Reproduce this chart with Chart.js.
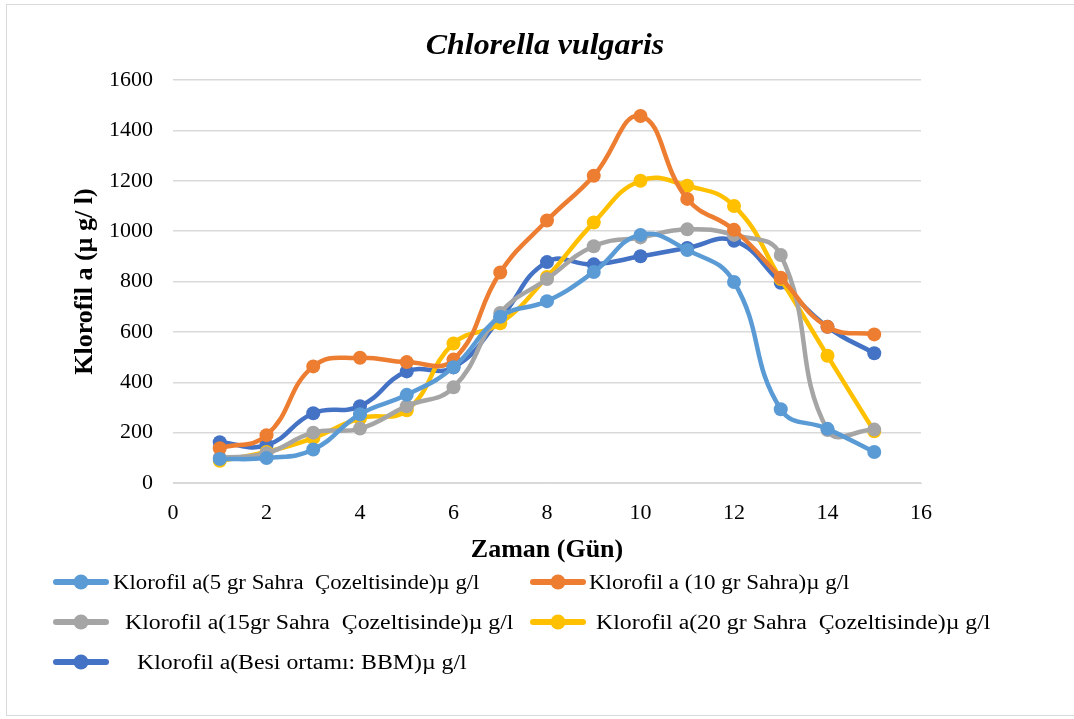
<!DOCTYPE html>
<html>
<head>
<meta charset="utf-8">
<script src="https://cdn.jsdelivr.net/npm/chart.js@4"></script>
<style>
  html, body { margin: 0; padding: 0; background: #fff; }
  #wrap { position: relative; width: 1074px; height: 719px; overflow: hidden; }
  #frame { position: absolute; left: 6px; top: 4px; width: 1080px; height: 712px; border: 1px solid #d9d9d9; box-sizing: border-box; }
  #box { position: absolute; left: 0; top: 0; width: 1074px; height: 719px; }
  #title { position: absolute; left: 545px; top: 44px; transform: translate(-50%, -50%) scaleX(1.10);
           font-family: "Liberation Serif", serif; font-size: 29px; font-weight: bold; font-style: italic; white-space: pre; }
  #legend { position: absolute; left: 0; top: 569px; font-family: "Liberation Serif", serif; font-size: 20px; color: #000; }
  .icon, .txt { position: absolute; white-space: pre; }
  .txt { height: 26px; line-height: 26px; transform-origin: left center; }
</style>
</head>
<body>
<div id="wrap">
  <div id="frame"></div>
  <div id="box"><canvas id="chart"></canvas></div>
  <div id="title">Chlorella vulgaris</div>
  <div id="legend"></div>
</div>
<script>
// gün
const days = [1, 2, 3, 4, 5, 6, 7, 8, 9, 10, 11, 12, 13, 14, 15];

const s5gr  = [95, 99, 133, 273, 350, 460, 660, 722, 838, 985, 925, 798, 293, 215, 123];
const s10gr = [138, 190, 463, 497, 480, 490, 836, 1042, 1220, 1457, 1128, 1005, 815, 620, 590];
const s15gr = [100, 118, 200, 216, 305, 380, 675, 810, 940, 975, 1007, 985, 905, 210, 212];
const s20gr = [88, 123, 178, 257, 289, 554, 634, 818, 1034, 1200, 1180, 1100, 810, 505, 205];
const sBBM  = [162, 150, 277, 305, 443, 459, 653, 877, 868, 900, 933, 962, 795, 620, 515];

const labels = [
  'Klorofil a(5 gr Sahra  Çozeltisinde)µ g/l',
  'Klorofil a (10 gr Sahra)µ g/l',
  'Klorofil a(15gr Sahra  Çozeltisinde)µ g/l',
  'Klorofil a(20 gr Sahra  Çozeltisinde)µ g/l',
  'Klorofil a(Besi ortamı: BBM)µ g/l'
];
const colors = ['#5b9bd5', '#ed7d31', '#a5a5a5', '#ffc000', '#4472c4'];
const series = [s5gr, s10gr, s15gr, s20gr, sBBM];

const serif = '"Liberation Serif", "Times New Roman", serif';

function ds(i) {
  return {
    label: labels[i],
    data: days.map((d, k) => ({ x: d, y: series[i][k] })),
    borderColor: colors[i],
    backgroundColor: colors[i],
    borderWidth: 4.5,
    pointRadius: 7,
    pointHoverRadius: 7,
    pointBorderWidth: 0,
    tension: 0.45
  };
}

const ctx = document.getElementById('chart');
new Chart(ctx, {
  type: 'line',
  data: { datasets: [ds(0), ds(1), ds(2), ds(3), ds(4)] },
  options: {
    responsive: true,
    maintainAspectRatio: false,
    animation: false,
    layout: { padding: { left: 70, right: 153, top: 80, bottom: 153 } },
    plugins: {
      legend: { display: false },
      tooltip: { enabled: false }
    },
    scales: {
      x: {
        type: 'linear',
        min: 0, max: 16,
        afterFit: function(scale) { scale.height = 83; },
        ticks: { stepSize: 2, color: '#000', font: { family: serif, size: 22 }, padding: 9 },
        grid: { display: false },
        border: { color: '#d9d9d9' },
        title: {
          display: true, text: 'Zaman (Gün)', color: '#000',
          font: { family: serif, size: 26, weight: 'bold' }, padding: { top: 0, bottom: 0 }
        }
      },
      y: {
        min: 0, max: 1600,
        afterFit: function(scale) { scale.width = 103; },
        ticks: {
          stepSize: 200, color: '#000', font: { family: serif, size: 22 }, padding: 20,
          callback: function(value) { return String(value); }
        },
        grid: { color: '#d9d9d9', lineWidth: 1.5, drawTicks: false },
        border: { display: false },
        title: {
          display: true, text: 'Klorofil a (µ g/ l)', color: '#000',
          font: { family: serif, size: 26, weight: 'bold' }, padding: { top: 0, bottom: 0 }
        }
      }
    }
  }
});

// legend (two columns like the original)
const legend = document.getElementById('legend');
const iconX = [53, 530, 53, 530, 53];
const textX = [113, 589, 125, 596, 137];
const stretch = [1.14, 1.15, 1.19, 1.19, 1.19];
labels.forEach((t, i) => {
  const y = i < 2 ? 0 : (i < 4 ? 40 : 80);
  const c = document.createElement('canvas');
  c.className = 'icon';
  c.width = 56; c.height = 18;
  c.style.left = iconX[i] + 'px';
  c.style.top = (y + 4) + 'px';
  const g = c.getContext('2d');
  g.strokeStyle = colors[i]; g.lineWidth = 6; g.lineCap = 'round';
  g.beginPath(); g.moveTo(3, 9); g.lineTo(53, 9); g.stroke();
  g.fillStyle = colors[i];
  g.beginPath(); g.arc(28, 9, 7.5, 0, Math.PI * 2); g.fill();
  legend.appendChild(c);
  const s = document.createElement('div');
  s.className = 'txt';
  s.style.left = textX[i] + 'px';
  s.style.top = y + 'px';
  s.style.transform = 'scaleX(' + stretch[i] + ')';
  s.textContent = t;
  legend.appendChild(s);
});
</script>
</body>
</html>
